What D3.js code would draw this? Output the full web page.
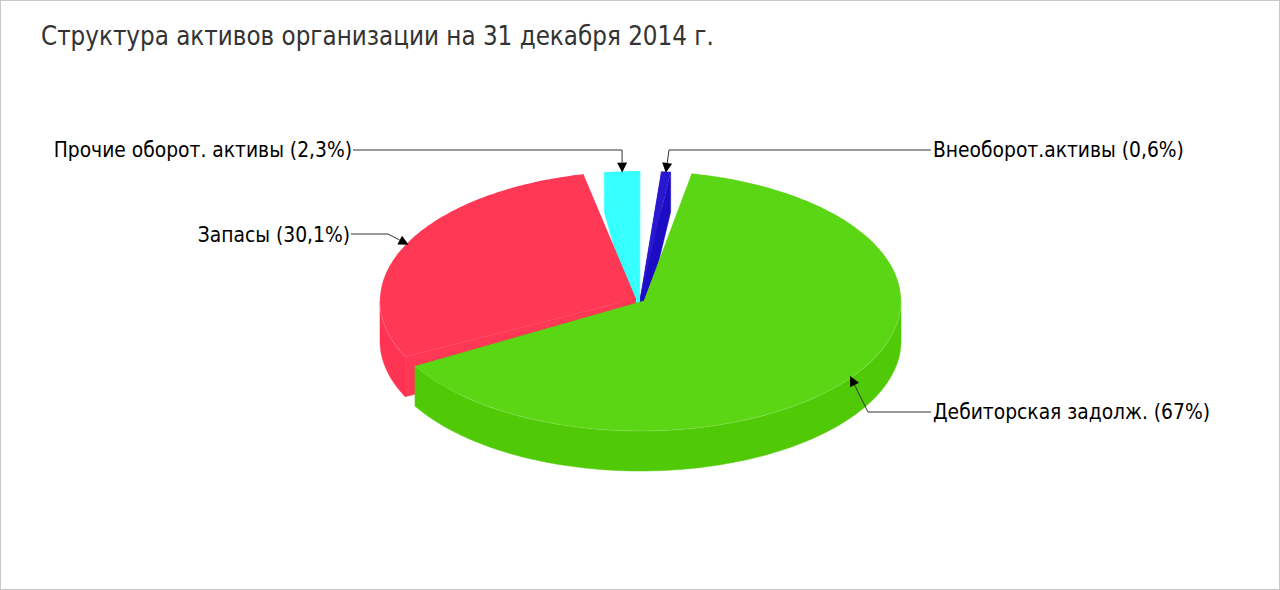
<!DOCTYPE html>
<html><head><meta charset="utf-8">
<script src="https://cdn.jsdelivr.net/npm/d3@7"></script>
<style>html,body{margin:0;padding:0;background:#fff}svg{display:block}</style>
</head><body><div id="chart"></div>
<script>
const titleText = "Структура активов организации на 31 декабря 2014 г.";
const categories = ["Дебиторская задолж.", "Запасы", "Прочие оборот. активы", "Внеоборот.активы"];
const values = [67, 30.1, 2.3, 0.6];
const valueLabels = ["67", "30,1", "2,3", "0,6"];
const topColors = ["#5ad615", "#ff3855", "#35ffff", "#2a18d0"];
const sideColors = ["#50ca07", "#ff3352", "#30fbff", "#1c0cc4"];
// leader layout: label anchor, text side, elbow point
const labelX = [933, 350, 352, 933];
const labelY = [412, 235, 150, 150];
const labelAnchor = ["start", "end", "end", "start"];
const lineStartX = [931, 351, 353, 931];
const lineStartY = [412, 234, 150, 150];
const elbowX = [868, 388, 622, 669];
const elbowY = [412, 234, 150, 150];

const W = 1280, H = 590, cx = 640.5, cy = 301, rx = 260.5, ry = 130, depth = 40, explode = 5;
const apexCx = 640, apexCy = 299.5;
const deg = Math.PI / 180;

const svg = d3.select("#chart").append("svg").attr("width", W).attr("height", H);
svg.append("rect").attr("x", .5).attr("y", .5).attr("width", W - 1).attr("height", H - 1)
  .attr("fill", "#fff").attr("stroke", "#c8c8c8");
svg.append("text").attr("x", 41).attr("y", 45).attr("fill", "#333")
  .attr("font-family", "DejaVu Sans Condensed").attr("font-size", 25.7).text(titleText);

const pie = d3.pie().sort(null).value(d => d.value)
  .startAngle(11.4 * deg).endAngle((360 + 11.4) * deg).padAngle(4.75 * deg);
const arcs = pie(values.map((value, i) => ({ value, i })));

const sx = d3.scaleLinear().domain([-1, 1]).range([cx - rx, cx + rx]);
const sy = d3.scaleLinear().domain([-1, 1]).range([cy - ry, cy + ry]);
const line = d3.line().x(p => p[0]).y(p => p[1]);

arcs.forEach(a => {
  a.a0 = a.startAngle; a.a1 = a.endAngle - a.padAngle; a.mid = (a.a0 + a.a1) / 2;
  a.ox = apexCx + explode * Math.sin(a.mid);
  a.oy = apexCy - explode * 0.5 * Math.cos(a.mid);
  a.pt = (t, r = 1) => [sx(r * Math.sin(t)), sy(-r * Math.cos(t))];
  a.rim = (t0, t1) => d3.range(0, 121).map(k => a.pt(t0 + (t1 - t0) * k / 120));
});
const down = p => [p[0], p[1] + depth];

const order = arcs.slice().sort((p, q) => (-Math.cos(p.mid)) - (-Math.cos(q.mid)));
const g = svg.append("g");
order.forEach(a => {
  const i = a.data.i, side = sideColors[i], top = topColors[i];
  const apex = [a.ox, a.oy];
  const wall = t => { const r = a.pt(t); return [apex, r, down(r), down(apex)]; };
  [a.a0, a.a1].forEach(t => {
    g.append("path").attr("d", line(wall(t)) + "Z").attr("fill", t === a.a0 ? top : side)
      .attr("stroke", t === a.a0 ? top : side).attr("stroke-width", .5);
  });
  // outer wall, front half only (pi/2 .. 3pi/2)
  const f0 = Math.max(a.a0, Math.PI / 2), f1 = Math.min(a.a1, 3 * Math.PI / 2);
  if (f1 > f0) {
    const r = a.rim(f0, f1);
    g.append("path").attr("d", line(r.concat(r.slice().reverse().map(down))) + "Z")
      .attr("fill", side).attr("stroke", side).attr("stroke-width", .5);
  }
  g.append("path").attr("d", line([apex].concat(a.rim(a.a0, a.a1))) + "Z").attr("fill", top);
  if (f1 > f0) {
    g.append("path").attr("d", line(a.rim(f0, f1))).attr("fill", "none")
      .attr("stroke", "#fff").attr("stroke-opacity", .14);
  }
});

// leaders and labels
const lg = svg.append("g");
arcs.forEach(a => {
  const i = a.data.i;
  const tip = a.pt(a.mid, 0.99);
  const ex = elbowX[i], ey = elbowY[i];
  const ang = Math.atan2(tip[1] - ey, tip[0] - ex);
  const L = 10, w = 5;
  const base = [tip[0] - L * Math.cos(ang), tip[1] - L * Math.sin(ang)];
  lg.append("path").attr("d", line([[lineStartX[i], lineStartY[i]], [ex, ey], base]))
    .attr("fill", "none").attr("stroke", "#333").attr("stroke-width", 1);
  lg.append("path").attr("d", line([tip,
    [base[0] - w * Math.sin(ang), base[1] + w * Math.cos(ang)],
    [base[0] + w * Math.sin(ang), base[1] - w * Math.cos(ang)]]) + "Z").attr("fill", "#000");
  lg.append("text").attr("x", labelX[i]).attr("y", labelY[i]).attr("dy", "0.36em")
    .attr("text-anchor", labelAnchor[i]).attr("fill", "#000")
    .attr("font-family", "DejaVu Sans Condensed").attr("font-size", 20.8)
    .text(`${categories[i]} (${valueLabels[i]}%)`);
});
</script></body></html>
